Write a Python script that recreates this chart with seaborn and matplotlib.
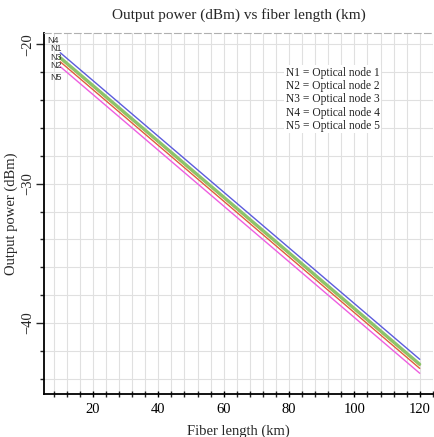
import matplotlib
matplotlib.use("Agg")
import matplotlib.pyplot as plt
import seaborn as sns
import pandas as pd
from matplotlib.ticker import MultipleLocator

# Data
lengths = [10, 120]
nodes = ["N1", "N2", "N3", "N4", "N5"]
n1 = [-20.6, -42.6]
n2 = [-21.25, -43.25]
n3 = [-20.95, -42.95]
n4 = [-21.05, -43.05]
n5 = [-21.6, -43.6]
label_names = ["N4", "N1", "N3", "N2", "N5"]
label_y = [-19.75, -20.3, -20.95, -21.5, -22.35]
legend_lines = ["N1 = Optical node 1", "N2 = Optical node 2", "N3 = Optical node 3",
                "N4 = Optical node 4", "N5 = Optical node 5"]

rows = []
for name, vals in zip(nodes, [n1, n2, n3, n4, n5]):
    for x, v in zip(lengths, vals):
        rows.append({"length": x, "power": v, "node": name})
df = pd.DataFrame(rows)

sns.set_theme(style="white")
plt.rcParams["font.family"] = ["Liberation Serif", "DejaVu Serif"]

fig = plt.figure(figsize=(4.35, 4.37), dpi=100)
ax = fig.add_axes([0.101, 0.098, 0.894, 0.826])

palette = {"N1": "#5b5bdc", "N2": "#e0603c", "N3": "#8cc46a", "N4": "#b8b84a", "N5": "#ee5ee0"}
widths = {"N1": 1.0, "N2": 1.0, "N3": 2.2, "N4": 1.0, "N5": 1.0}
for name in ["N4", "N3", "N1", "N2", "N5"]:
    sub = df[df["node"] == name]
    sns.lineplot(data=sub, x="length", y="power", color=palette[name],
                 linewidth=widths[name], ax=ax, legend=False)

ax.set_xlim(5, 124)
ax.set_ylim(-45.1, -19.2)
ax.xaxis.set_major_locator(MultipleLocator(20))
ax.xaxis.set_minor_locator(MultipleLocator(4))
ax.yaxis.set_major_locator(MultipleLocator(10))
ax.yaxis.set_minor_locator(MultipleLocator(2))
ax.grid(True, which="both", color="#e0e0e0", linewidth=0.8)
ax.set_axisbelow(True)

for s in ["left", "bottom"]:
    ax.spines[s].set_color("black")
    ax.spines[s].set_linewidth(1.3)
ax.spines["right"].set_visible(False)
ax.spines["top"].set_color("#b0b0b0")
ax.spines["top"].set_linestyle((0, (6, 3)))
ax.spines["top"].set_linewidth(0.8)

ax.tick_params(axis="x", which="major", direction="inout", length=5, width=1, colors="black",
               labelsize=10.5, pad=4, bottom=True)
ax.tick_params(axis="x", which="minor", direction="inout", length=4, width=1, bottom=True)
ax.tick_params(axis="y", which="major", direction="out", length=6, width=1, labelsize=10.5,
               pad=3, left=True)
ax.tick_params(axis="y", which="minor", direction="out", length=3, width=1, left=True)
plt.setp(ax.get_yticklabels(), rotation=90, va="center", rotation_mode="anchor", ha="center")
ax.tick_params(axis="y", which="major", pad=6)

ax.set_xlabel("Fiber length (km)", fontsize=10.5, labelpad=6)
ax.set_ylabel("Output power (dBm)", fontsize=10.5)
ax.yaxis.set_label_coords(-0.066, 0.5)
ax.set_title("Output power (dBm) vs fiber length (km)", fontsize=11, pad=10)

for name, yv in zip(label_names, label_y):
    ax.text(6.0 if name == "N4" else 6.8, yv, name, fontsize=6.5, color="#333333",
            family=["Liberation Sans", "DejaVu Sans"],
            va="center", ha="left")

ax.text(79, -21.6, "\n".join(legend_lines), fontsize=8.3, va="top", ha="left",
        linespacing=1.15, color="#222222",
        bbox=dict(facecolor="white", edgecolor="none", pad=1))

fig.savefig("out.png", dpi=100)
